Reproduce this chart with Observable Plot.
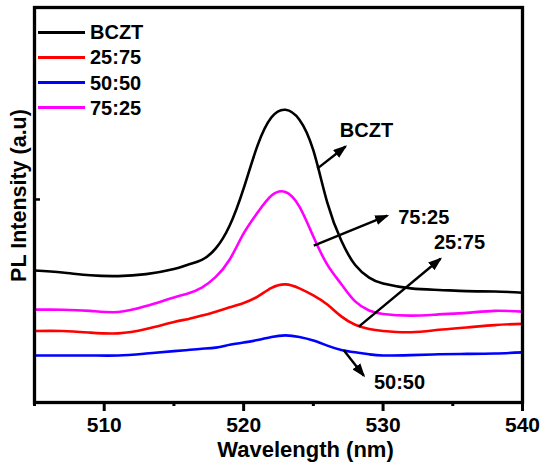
<!DOCTYPE html>
<html><head><meta charset="utf-8">
<script src="https://cdn.jsdelivr.net/npm/d3@7"></script>
<script src="https://cdn.jsdelivr.net/npm/@observablehq/plot@0.6"></script>
<style>
body{margin:0;background:#fff;}
#wrap{position:relative;width:542px;height:463px;font-family:"Liberation Sans",Arial,sans-serif;font-weight:bold;}
#legend{position:absolute;left:38px;top:19.4px;}
.row{display:flex;align-items:center;height:25.3px;}
.sw{width:47px;height:3px;margin-right:5px;}
.lab{font-size:20px;line-height:1;color:#000;}
</style></head><body>
<div id="wrap"><div id="chart"></div><div id="legend"></div></div>
<script>
// ---- data ----
const wavelengths = [505,507,509,511,513,515,516,517,518,519,520,521,522,523,524,525,526,527,528,529,530,532,534,536,538,540];
const bczt  = [33.4,32.9,32.2,32.0,32.5,33.8,34.9,36.1,39.0,44.8,54.2,65.1,72.2,74.1,71.6,63.8,50.6,41.0,34.8,31.6,30.1,28.9,28.5,28.2,28.1,27.8];
const r2575 = [18.1,18.1,17.7,17.5,18.6,20.4,21.1,22.0,23.0,24.1,25.2,26.8,29.0,29.9,28.9,27.1,24.8,21.8,19.7,18.6,18.1,17.8,18.4,19.0,19.6,19.9];
const r5050 = [11.9,11.9,11.9,11.9,12.4,13.0,13.3,13.6,13.9,14.6,15.2,15.8,16.6,17.0,16.6,15.7,14.4,13.3,12.7,12.2,11.9,12.0,12.2,12.3,12.4,12.7];
const r7525 = [23.5,23.5,23.2,22.9,24.4,26.6,27.6,29.1,31.8,36.2,42.8,48.1,52.4,53.3,49.6,42.0,34.9,30.0,25.6,23.3,22.4,22.0,22.3,22.7,23.2,23.0];

const seriesNames  = ["BCZT","25:75","50:50","75:25"];
const seriesColors = ["#000000","#ff0000","#0000ff","#ff00ff"];
const xMajorTicks = [510,520,530,540];
const xMinorTicks = [505,515,525,535];
const yTicks = [51.4];

// annotation arrows: start on curve (x1,y1) -> tip (x2,y2); label at (lx,ly)
const annLabels = ["BCZT","75:25","25:75","50:50"];
const annX1 = [525.28,525.03,528.26,527.18];
const annY1 = [59.2,39.7,19.2,13.2];
const annX2 = [527.31,530.30,534.12,528.62];
const annY2 = [64.8,47.3,36.4,6.8];
const annLX = [528.81,532.92,535.48,531.18];
const annLY = [68.9,46.8,40.6,5.1];

// ---- build tables ----
const valuesBySeries = [bczt, r2575, r5050, r7525];
const rows = [];
seriesNames.forEach((s, k) => wavelengths.forEach((w, i) => rows.push({series: s, wl: w, v: valuesBySeries[k][i]})));
const ann = annLabels.map((t, i) => ({label: t, x1: annX1[i], y1: annY1[i], x2: annX2[i], y2: annY2[i], lx: annLX[i], ly: annLY[i]}));

const font = '"Liberation Sans", Arial, sans-serif';
const chart = Plot.plot({
  width: 542, height: 463,
  marginLeft: 34, marginRight: 20, marginTop: 7, marginBottom: 61,
  style: {fontFamily: font, fontWeight: "bold", background: "white", overflow: "visible"},
  x: {domain: [505, 540], label: null},
  y: {domain: [0, 100], label: null},
  color: {domain: seriesNames, range: seriesColors},
  marks: [
    Plot.lineY(rows, {x: "wl", y: "v", z: "series", stroke: "series", strokeWidth: 2.6, curve: "natural"}),
    Plot.link(ann, {x1: "x1", y1: "y1", x2: "x2", y2: "y2", stroke: "black", strokeWidth: 2.4}),
    Plot.text(ann, {x: "lx", y: "ly", text: "label", fontSize: 20, fontWeight: "bold", fill: "black"}),
    Plot.axisX({ticks: xMajorTicks, tickSize: 9, tickPadding: 6, strokeWidth: 3, fontSize: 21, fontWeight: "bold", label: null, tickFormat: d => String(d)}),
    Plot.axisX({ticks: xMinorTicks, tickSize: 4, strokeWidth: 3, label: null, tickFormat: () => ""}),
    Plot.axisY({ticks: yTicks, tickSize: 6, dx: 6, strokeWidth: 2.5, label: null, tickFormat: () => ""}),
    Plot.frame({stroke: "black", strokeWidth: 3.3}),
    Plot.text(["Wavelength (nm)"], {text: d => d, frameAnchor: "bottom", textAnchor: "middle", lineAnchor: "middle", dx: 27, dy: 47, fontSize: 22, fontWeight: "bold", fill: "black"}),
    Plot.text(["PL Intensity (a.u)"], {text: d => d, frameAnchor: "left", textAnchor: "middle", lineAnchor: "middle", rotate: -90, dx: -15, dy: -9.5, fontSize: 21.5, fontWeight: "bold", fill: "black"})
  ]
});
document.getElementById("chart").appendChild(chart);

// filled arrowheads on the annotation links
const ns = "http://www.w3.org/2000/svg";
const defs = document.createElementNS(ns, "defs");
defs.innerHTML = '<marker id="ahead" viewBox="0 0 14 10" refX="12" refY="5" markerWidth="14" markerHeight="10" markerUnits="userSpaceOnUse" orient="auto"><path d="M0,0L14,5L0,10Z" fill="black"/></marker>';
chart.insertBefore(defs, chart.firstChild);
chart.querySelectorAll('g[aria-label="link"] path').forEach(p => p.setAttribute("marker-end", "url(#ahead)"));

// legend
const lg = document.getElementById("legend");
seriesNames.forEach((s, i) => {
  const r = document.createElement("div"); r.className = "row";
  r.innerHTML = `<div class="sw" style="background:${seriesColors[i]}"></div><div class="lab">${s}</div>`;
  lg.appendChild(r);
});
</script>
</body></html>
